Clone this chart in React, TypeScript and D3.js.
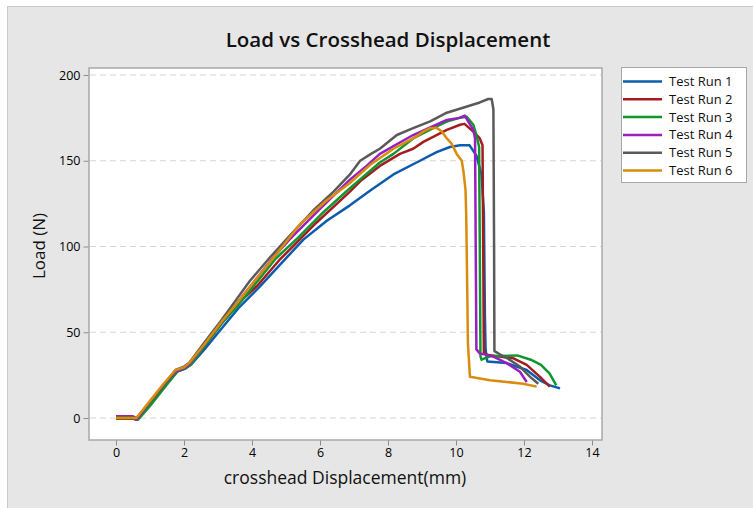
import React, { useEffect, useRef } from 'react';
import * as d3 from 'd3';

type Pt = [number, number];

const xTicks = [0, 2, 4, 6, 8, 10, 12, 14];
const yTicks = [0, 50, 100, 150, 200];
const runNames = ['Test Run 1', 'Test Run 2', 'Test Run 3', 'Test Run 4', 'Test Run 5', 'Test Run 6'];
const runColors = ['#0b5cad', '#a51c1f', '#0f962e', '#9a1fbf', '#5a5a5a', '#d98c0b'];

// displacement (mm), load (N)
const run1: Pt[] = [[0, 0.8], [0.5, 0.8], [0.62, -0.5], [1.0, 8], [1.4, 18], [1.8, 27], [2.05, 29], [2.2, 31], [2.6, 40], [3.1, 52], [3.6, 64], [4.25, 77], [4.9, 91], [5.51, 104], [6.2, 115], [6.88, 124], [7.5, 133], [8.16, 142], [8.94, 150], [9.43, 155], [9.82, 158], [10.12, 159], [10.4, 159], [10.6, 153], [10.75, 142], [10.82, 120], [10.85, 60], [10.87, 40], [10.92, 33], [11.49, 32], [12.08, 28], [12.47, 22], [12.76, 19], [13.06, 17.3]];
const run2: Pt[] = [[0, -0.5], [0.5, -0.5], [0.6, -1], [1.0, 8], [1.4, 18], [1.75, 27], [2.0, 29], [2.15, 31], [2.6, 42], [3.1, 55], [3.6, 67], [4.15, 77], [4.8, 92], [5.4, 104], [5.9, 114], [6.5, 125], [6.88, 132], [7.18, 138], [7.76, 147], [8.35, 154], [8.74, 157], [9.04, 161], [9.73, 168], [10.12, 171], [10.25, 171.5], [10.51, 167], [10.7, 163], [10.78, 159], [10.8, 100], [10.82, 38], [10.94, 36.7], [11.69, 34.8], [12.08, 31], [12.47, 24], [12.76, 18.3]];
const run3: Pt[] = [[0, 0], [0.5, 0], [0.65, -1], [1.0, 7], [1.4, 17], [1.8, 27], [2.05, 29], [2.2, 31], [2.6, 42], [3.1, 55], [3.6, 66], [4.05, 77], [4.7, 93], [5.35, 105], [6.1, 120], [6.88, 134], [7.76, 149], [8.16, 154], [8.74, 163], [9.43, 170], [9.73, 172.8], [10.1, 175], [10.31, 175.7], [10.51, 171], [10.6, 165], [10.68, 158], [10.7, 100], [10.72, 36], [10.75, 34], [11.0, 36], [11.8, 36.5], [12.2, 34], [12.5, 31], [12.75, 26], [12.95, 19]];
const run4: Pt[] = [[0, 1], [0.5, 1], [0.6, -1], [1.0, 9], [1.4, 19], [1.75, 27], [2.0, 29], [2.15, 31], [2.6, 43], [3.1, 56], [3.6, 68], [4.0, 78], [4.6, 93], [5.1, 104], [6.0, 122], [6.88, 139], [7.37, 147], [7.76, 154], [8.74, 165], [9.73, 173.8], [10.1, 175], [10.26, 176.3], [10.36, 172.8], [10.51, 168], [10.56, 163], [10.58, 100], [10.6, 40], [10.7, 37.7], [11.1, 35.8], [11.49, 32], [11.88, 27], [12.08, 21]];
const run5: Pt[] = [[0, 0.5], [0.5, 0.5], [0.6, 0], [1.0, 9], [1.4, 19], [1.75, 28], [2.0, 30], [2.15, 32], [2.6, 44], [3.1, 57], [3.5, 68], [3.94, 80], [4.5, 93], [5.1, 106], [5.8, 121], [6.4, 132], [6.88, 142], [7.18, 150], [7.5, 154], [7.76, 157], [8.26, 165], [8.74, 169], [9.24, 173], [9.73, 178], [10.3, 181.5], [10.7, 184], [10.95, 186], [11.05, 186], [11.1, 180], [11.12, 100], [11.13, 39], [11.3, 37], [11.49, 35], [11.88, 30], [12.18, 24], [12.42, 20]];
const run6: Pt[] = [[0, 0], [0.5, 0], [0.6, 0], [1.0, 10], [1.4, 20], [1.75, 28], [2.0, 29.5], [2.15, 32], [2.6, 43], [3.1, 56], [3.6, 68], [4.0, 78], [4.7, 95], [5.41, 113], [6.2, 127], [6.88, 137], [7.5, 148], [8.16, 157], [8.74, 163], [9.04, 167], [9.24, 169], [9.43, 169.3], [9.58, 167], [9.73, 163], [9.87, 160], [10.02, 154], [10.17, 150], [10.22, 143.6], [10.28, 133], [10.3, 119], [10.33, 76], [10.35, 44], [10.41, 24], [11.0, 22], [11.49, 21], [11.98, 20], [12.37, 18.3]];

const runs = [run1, run2, run3, run4, run5, run6];

const font = '"Open Sans", "Noto Sans", sans-serif';

const App = () => {
  const ref = useRef<SVGSVGElement>(null);

  useEffect(() => {
    const svg = d3.select(ref.current);
    svg.selectAll('*').remove();

    const width = 753;
    const height = 508;
    const plot = { left: 89, right: 602, top: 68, bottom: 440 };

    const x = d3.scaleLinear().domain([0, 14]).range([116, 592]);
    const y = d3.scaleLinear().domain([0, 200]).range([418, 75]);

    // outer panel
    svg.append('rect')
      .attr('x', 7.5).attr('y', 6.5)
      .attr('width', width).attr('height', height)
      .attr('fill', '#e6e6e6')
      .attr('stroke', '#c8c8c8');

    // title
    svg.append('text')
      .attr('x', 388).attr('y', 47)
      .attr('text-anchor', 'middle')
      .attr('font-family', font)
      .attr('font-size', 20.5)
      .attr('font-weight', 600)
      .attr('fill', '#111')
      .text('Load vs Crosshead Displacement');

    // plot area
    svg.append('rect')
      .attr('x', plot.left).attr('y', plot.top)
      .attr('width', plot.right - plot.left)
      .attr('height', plot.bottom - plot.top)
      .attr('fill', '#fff')
      .attr('stroke', '#a8a8a8')
      .attr('stroke-width', 1.5);

    // gridlines
    svg.append('g')
      .selectAll('line')
      .data(yTicks)
      .join('line')
        .attr('x1', plot.left + 1).attr('x2', plot.right - 1)
        .attr('y1', d => y(d)).attr('y2', d => y(d))
        .attr('stroke', '#d6d6d6')
        .attr('stroke-width', 1.2)
        .attr('stroke-dasharray', '6,4');

    // axes
    const yAxis = svg.append('g')
      .attr('transform', `translate(${plot.left - 0.5},0)`)
      .call(d3.axisLeft(y).tickValues(yTicks).tickSize(5).tickPadding(3));
    const xAxis = svg.append('g')
      .attr('transform', `translate(0,${plot.bottom + 0.5})`)
      .call(d3.axisBottom(x).tickValues(xTicks).tickSize(5).tickPadding(3));

    [xAxis, yAxis].forEach(g => {
      g.select('.domain').remove();
      g.selectAll('.tick line').attr('stroke', '#8c8c8c');
      g.selectAll('.tick text')
        .attr('font-family', font)
        .attr('font-size', 12.5)
        .attr('fill', '#000');
    });

    // axis titles
    svg.append('text')
      .attr('x', 345).attr('y', 484)
      .attr('text-anchor', 'middle')
      .attr('font-family', font)
      .attr('font-size', 17.5)
      .attr('fill', '#111')
      .text('crosshead Displacement(mm)');

    svg.append('text')
      .attr('transform', 'translate(45,246) rotate(-90)')
      .attr('text-anchor', 'middle')
      .attr('font-family', font)
      .attr('font-size', 17)
      .attr('fill', '#111')
      .text('Load (N)');

    // curves
    const line = d3.line<Pt>()
      .x(d => x(d[0]))
      .y(d => y(d[1]));

    svg.append('g')
      .selectAll('path')
      .data(runs)
      .join('path')
        .attr('d', d => line(d))
        .attr('fill', 'none')
        .attr('stroke', (d, i) => runColors[i])
        .attr('stroke-width', 2.5)
        .attr('stroke-linejoin', 'round');

    // legend
    const legend = svg.append('g');
    legend.append('rect')
      .attr('x', 621.5).attr('y', 67.5)
      .attr('width', 125).attr('height', 115)
      .attr('fill', '#fff')
      .attr('stroke', '#a8a8a8');

    const items = legend.selectAll('g.item')
      .data(runNames)
      .join('g')
        .attr('class', 'item')
        .attr('transform', (d, i) => `translate(0,${81.5 + i * 17.8})`);

    items.append('line')
      .attr('x1', 623).attr('x2', 662)
      .attr('stroke', (d, i) => runColors[i])
      .attr('stroke-width', 2.5);

    items.append('text')
      .attr('x', 669).attr('y', 4.5)
      .attr('font-family', font)
      .attr('font-size', 13)
      .attr('fill', '#111')
      .text(d => d);
  }, []);

  return (
    <svg
      ref={ref}
      width="753"
      height="508"
      style={{ position: 'absolute', left: 0, top: 0, background: '#fff' }}
    ></svg>
  );
};

export default App;
